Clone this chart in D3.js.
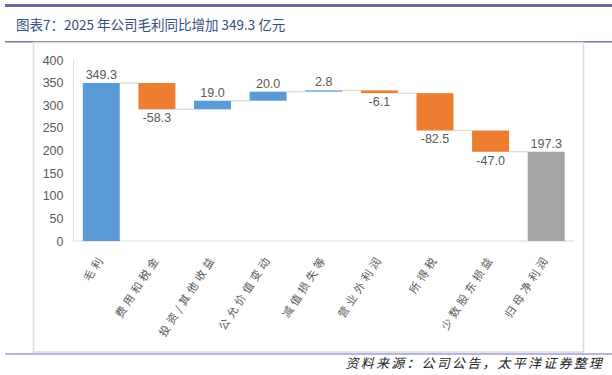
<!DOCTYPE html>
<html>
<head>
<meta charset="utf-8">
<script src="https://cdn.jsdelivr.net/npm/d3@7"></script>
<style>
  body { margin: 0; background: #fff; }
  svg { display: block; font-family: "Noto Sans CJK SC", "Noto Sans", sans-serif; }
</style>
</head>
<body>
<div id="chart"></div>
<script>
// categories and their changes (last one is the total)
const categories = ["毛利", "费用和税金", "投资/其他收益", "公允价值变动", "减值损失等", "营业外利润", "所得税", "少数股东损益", "归母净利润"];
const changes = [349.3, -58.3, 19.0, 20.0, 2.8, -6.1, -82.5, -47.0, 197.3];
const labels = ["349.3", "-58.3", "19.0", "20.0", "2.8", "-6.1", "-82.5", "-47.0", "197.3"];
const yTicks = [0, 50, 100, 150, 200, 250, 300, 350, 400];

const W = 612, H = 375;
const margin = { top: 60, right: 38, bottom: 134, left: 73.5 };

const svg = d3.select("#chart").append("svg").attr("width", W).attr("height", H);

// page frame: top bar, title, separators, chart box, footer
svg.append("rect").attr("x", 5).attr("y", 4).attr("width", W - 5).attr("height", 3).attr("fill", "#6b6b9b");
svg.append("text").attr("x", 16).attr("y", 30).attr("font-size", 13.5).attr("fill", "#34507e")
  .text("图表7：2025 年公司毛利同比增加 349.3 亿元");
svg.append("rect").attr("x", 5).attr("y", 41).attr("width", W - 5).attr("height", 1.5).attr("fill", "#7a7a9e");
svg.append("rect").attr("x", 33.5).attr("y", 42.5).attr("width", 550).attr("height", 309.5)
  .attr("fill", "none").attr("stroke", "#dcdcdc").attr("stroke-width", 1.5);
svg.append("rect").attr("x", 5).attr("y", 353.5).attr("width", W - 5).attr("height", 1).attr("fill", "#6f6fb3");
svg.append("text").attr("x", 604).attr("y", 368).attr("text-anchor", "end").attr("font-size", 13)
  .attr("letter-spacing", 2.2)
  .attr("font-style", "italic").attr("fill", "#222").text("资料来源：公司公告，太平洋证券整理");

// build waterfall segments
let running = 0;
const steps = categories.map((c, i) => {
  const last = i === categories.length - 1;
  let start, end;
  if (i === 0 || last) { start = 0; end = changes[i]; }
  else { start = running; end = running + changes[i]; }
  running = end;
  const color = (i === 0) ? "#5b9bd5" : last ? "#a5a5a5" : (changes[i] < 0 ? "#ed7d31" : "#5b9bd5");
  return { cat: c, start, end, value: changes[i], label: labels[i], color, last };
});

const x = d3.scaleBand().domain(categories).range([margin.left, W - margin.right]).paddingInner(0.335).paddingOuter(0.167);
const y = d3.scaleLinear().domain([0, 400]).range([H - margin.bottom, margin.top]);

// axes lines
svg.append("line").attr("x1", margin.left).attr("x2", margin.left).attr("y1", y(400)).attr("y2", y(0))
  .attr("stroke", "#d9d9d9").attr("stroke-width", 1);
svg.append("line").attr("x1", margin.left).attr("x2", W - margin.right).attr("y1", y(0)).attr("y2", y(0))
  .attr("stroke", "#d9d9d9").attr("stroke-width", 1.2);

const yAxis = svg.append("g").attr("transform", `translate(${margin.left},0)`)
  .call(d3.axisLeft(y).tickValues(yTicks).tickSize(0).tickPadding(10));
yAxis.select(".domain").remove();
yAxis.selectAll("text").attr("font-size", 12.5).attr("fill", "#595959").attr("font-family", "Liberation Sans, Arial, sans-serif");

// connectors
svg.append("g").selectAll("line").data(steps.slice(0, -1)).join("line")
  .attr("x1", (d) => x(d.cat) + x.bandwidth())
  .attr("x2", (d, i) => x(categories[i + 1]))
  .attr("y1", (d) => y(d.end)).attr("y2", (d) => y(d.end))
  .attr("stroke", "#d9d9d9").attr("stroke-width", 1.2);

// bars
svg.append("g").selectAll("rect").data(steps).join("rect")
  .attr("x", (d) => x(d.cat))
  .attr("width", x.bandwidth())
  .attr("y", (d) => y(Math.max(d.start, d.end)))
  .attr("height", (d) => Math.max(1, Math.abs(y(d.start) - y(d.end))))
  .attr("fill", (d) => d.color);

// value labels
svg.append("g").selectAll("text").data(steps).join("text")
  .attr("x", (d) => x(d.cat) + x.bandwidth() / 2)
  .attr("y", (d) => d.value >= 0 ? y(Math.max(d.start, d.end)) - 4 : y(Math.min(d.start, d.end)) + 13)
  .attr("text-anchor", "middle").attr("font-size", 12.5).attr("fill", "#595959")
  .attr("font-family", "Liberation Sans, Arial, sans-serif")
  .text((d) => d.label);

// rotated category labels
svg.append("g").selectAll("text").data(categories).join("text")
  .attr("transform", (d) => `translate(${x(d) + x.bandwidth() / 2 + 4},${y(0) + 17}) rotate(-57)`)
  .attr("text-anchor", "end").attr("font-size", 11).attr("letter-spacing", 3.5).attr("fill", "#595959")
  .text((d) => d);
</script>
</body>
</html>
